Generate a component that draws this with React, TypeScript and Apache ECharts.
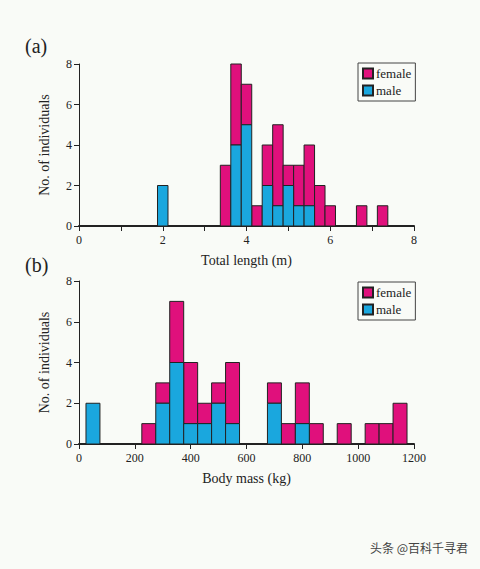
import React, { useEffect, useRef } from "react";
import * as echarts from "echarts";

const lengthBins = [2.0, 3.5, 3.75, 4.0, 4.25, 4.5, 4.75, 5.0, 5.25, 5.5, 5.75, 6.0, 6.75, 7.25];
const lengthMale = [2, 0, 4, 5, 0, 2, 1, 2, 1, 1, 0, 0, 0, 0];
const lengthFemale = [0, 3, 4, 2, 1, 2, 4, 1, 2, 3, 2, 1, 1, 1];

const massBins = [50, 250, 300, 350, 400, 450, 500, 550, 700, 750, 800, 850, 950, 1050, 1100, 1150];
const massMale = [2, 0, 2, 4, 1, 1, 2, 1, 2, 0, 1, 0, 0, 0, 0, 0];
const massFemale = [0, 1, 1, 3, 3, 1, 1, 3, 1, 1, 2, 1, 1, 1, 1, 2];

const lengthWidth = 0.25;
const massWidth = 50;

const FEMALE = "#e0107c";
const MALE = "#1aa7de";
const FONT = "Liberation Serif";

function makeRender(width: number, color: string) {
  return (params: any, api: any) => {
    const x = api.value(0);
    const base = api.value(1);
    const top = api.value(2);
    if (top <= base) return null;
    const p1 = api.coord([x - width / 2, top]);
    const p2 = api.coord([x + width / 2, base]);
    return {
      type: "rect",
      shape: { x: p1[0], y: p1[1], width: p2[0] - p1[0], height: p2[1] - p1[1] },
      style: { fill: color, stroke: "#222", lineWidth: 1 },
    };
  };
}

export default function App() {
  const ref = useRef<HTMLDivElement>(null);
  useEffect(() => {
    const chart = echarts.init(ref.current!, null, { renderer: "svg" });
    const maleLen = lengthBins.map((b, i) => [b, 0, lengthMale[i]]);
    const femLen = lengthBins.map((b, i) => [b, lengthMale[i], lengthMale[i] + lengthFemale[i]]);
    const maleMass = massBins.map((b, i) => [b, 0, massMale[i]]);
    const femMass = massBins.map((b, i) => [b, massMale[i], massMale[i] + massFemale[i]]);

    const axisText = { color: "#222", fontFamily: FONT, fontSize: 12 };
    const yAxisCommon = {
      type: "value",
      min: 0,
      max: 8,
      interval: 2,
      name: "No. of individuals",
      nameLocation: "middle",
      nameGap: 28,
      nameTextStyle: { color: "#222", fontFamily: FONT, fontSize: 14 },
      axisLine: { show: true, lineStyle: { color: "#222", width: 1 } },
      axisTick: { show: true, length: 5, lineStyle: { color: "#222" } },
      axisLabel: { ...axisText, margin: 7 },
      splitLine: { show: false },
    };
    const xAxisCommon = {
      type: "value",
      nameLocation: "middle",
      nameGap: 27,
      nameTextStyle: { color: "#222", fontFamily: FONT, fontSize: 14 },
      axisLine: { show: true, onZero: false, lineStyle: { color: "#222", width: 2 } },
      axisTick: { show: true, length: 5, lineStyle: { color: "#222", width: 1 } },
      splitLine: { show: false },
    };
    const legendCommon = {
      orient: "vertical",
      left: 358,
      data: ["female", "male"],
      itemWidth: 10,
      itemHeight: 10,
      itemGap: 4,
      padding: [4, 4, 4, 4],
      borderColor: "#444",
      borderWidth: 1,
      icon: "rect",
      textStyle: { color: "#222", fontFamily: FONT, fontSize: 13, padding: [0, 0, 0, -2] },
      selectedMode: false,
    };

    chart.setOption({
      animation: false,
      backgroundColor: "#f9fbf7",
      grid: [
        { left: 79, right: 66, top: 64, height: 162 },
        { left: 79, right: 66, top: 281, height: 163 },
      ],
      xAxis: [
        {
          ...xAxisCommon,
          gridIndex: 0,
          min: 0,
          max: 8,
          interval: 1,
          name: "Total length (m)",
          axisLabel: { ...axisText, margin: 8, formatter: (v: number) => (v % 2 === 0 ? String(v) : "") },
        },
        {
          ...xAxisCommon,
          gridIndex: 1,
          min: 0,
          max: 1200,
          interval: 200,
          name: "Body mass (kg)",
          axisLabel: { ...axisText, margin: 8, formatter: (v: number) => String(v) },
        },
      ],
      yAxis: [
        { ...yAxisCommon, gridIndex: 0 },
        { ...yAxisCommon, gridIndex: 1 },
      ],
      legend: [
        { ...legendCommon, top: 63 },
        { ...legendCommon, top: 282 },
      ],
      graphic: [
        { type: "text", left: 25, top: 36, style: { text: "(a)", fontFamily: FONT, fontSize: 20, fill: "#222" } },
        { type: "text", left: 25, top: 255, style: { text: "(b)", fontFamily: FONT, fontSize: 20, fill: "#222" } },
        {
          type: "text",
          right: 12,
          top: 541,
          style: { text: "头条 @百科千寻君", fontFamily: "Noto Sans CJK SC", fontSize: 12, fill: "#444" },
        },
      ],
      series: [
        {
          type: "custom",
          name: "female",
          xAxisIndex: 0,
          yAxisIndex: 0,
          renderItem: makeRender(lengthWidth, FEMALE),
          itemStyle: { color: FEMALE, borderColor: "#222", borderWidth: 1 },
          encode: { x: 0, y: [1, 2] },
          data: femLen,
        },
        {
          type: "custom",
          name: "male",
          xAxisIndex: 0,
          yAxisIndex: 0,
          renderItem: makeRender(lengthWidth, MALE),
          itemStyle: { color: MALE, borderColor: "#222", borderWidth: 1 },
          encode: { x: 0, y: [1, 2] },
          data: maleLen,
        },
        {
          type: "custom",
          name: "female",
          xAxisIndex: 1,
          yAxisIndex: 1,
          renderItem: makeRender(massWidth, FEMALE),
          itemStyle: { color: FEMALE, borderColor: "#222", borderWidth: 1 },
          encode: { x: 0, y: [1, 2] },
          data: femMass,
        },
        {
          type: "custom",
          name: "male",
          xAxisIndex: 1,
          yAxisIndex: 1,
          renderItem: makeRender(massWidth, MALE),
          itemStyle: { color: MALE, borderColor: "#222", borderWidth: 1 },
          encode: { x: 0, y: [1, 2] },
          data: maleMass,
        },
      ],
    });
    return () => chart.dispose();
  }, []);
  return <div ref={ref} style={{ width: 480, height: 569, position: "absolute", left: 0, top: 0 }} />;
}
